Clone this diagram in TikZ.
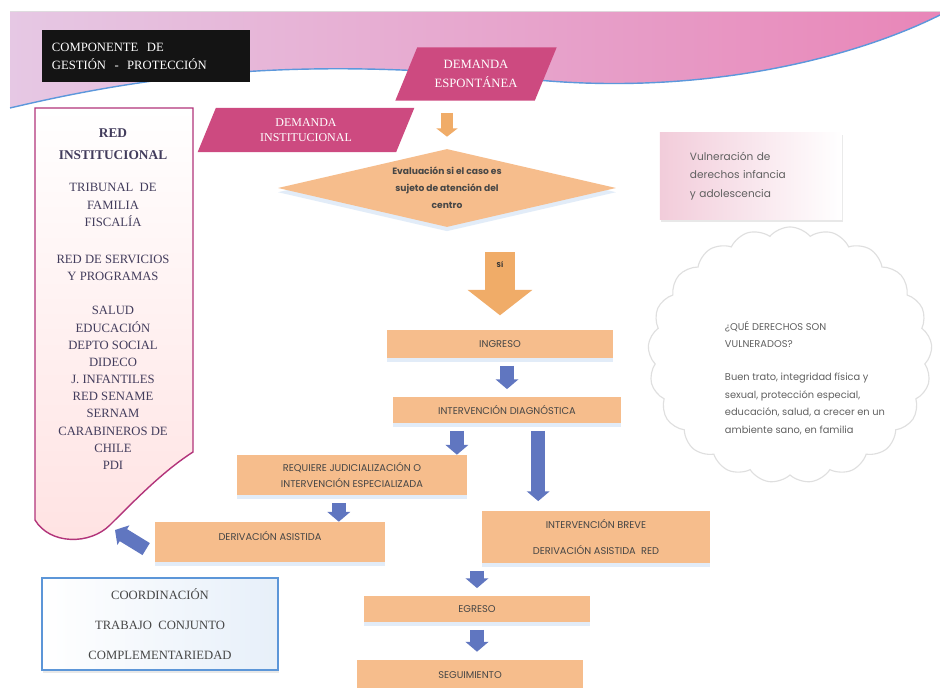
\documentclass[tikz,border=0pt]{standalone}
\usepackage{fontspec}
\setmainfont{Liberation Serif}
\setsansfont{Poppins}
\usetikzlibrary{shapes.geometric}
\usetikzlibrary{shapes.symbols}
\usetikzlibrary{arrows.meta}
\usetikzlibrary{shadows}
\definecolor{boxorange}{RGB}{246,189,140}
\definecolor{arroworange}{RGB}{240,172,104}
\definecolor{demandpink}{RGB}{205,74,128}
\definecolor{redline}{RGB}{178,52,122}
\definecolor{arrowblue}{RGB}{96,118,192}
\definecolor{coordblue}{RGB}{92,150,216}
\definecolor{boxtext}{RGB}{70,70,70}
\definecolor{redtext}{RGB}{66,60,92}
\definecolor{bandblue}{RGB}{92,152,220}
\definecolor{bandleft}{RGB}{230,200,228}
\definecolor{bandright}{RGB}{232,134,184}
\definecolor{vulnpink}{RGB}{242,204,218}
\tikzstyle{block} = [rectangle, fill=boxorange, text=boxtext, inner sep=0pt, align=center,
    font=\sffamily\fontsize{7}{9}\selectfont,
    drop shadow={shadow xshift=0pt, shadow yshift=-3pt, fill=bandblue!25, opacity=0.7}]
\tikzstyle{decision} = [diamond, fill=boxorange, text=boxtext, inner sep=0pt, align=center,
    shape aspect=4.3, font=\sffamily\bfseries\fontsize{6.5}{12}\selectfont,
    drop shadow={shadow xshift=0pt, shadow yshift=-3pt, fill=bandblue!25, opacity=0.7}]
\tikzstyle{demand} = [trapezium, trapezium stretches=true, fill=demandpink, text=white,
    align=center, inner sep=0pt]
\tikzstyle{redtxt} = [text=redtext, align=center, font=\fontsize{9}{12.2}\selectfont]
\tikzstyle{graytxt} = [text=gray!75!black, align=left, font=\sffamily\fontsize{7}{12.5}\selectfont]
\tikzstyle{bluearrow} = [draw=arrowblue, line width=10pt, -{Triangle[length=7pt,width=16pt]},
    shorten <=0.2cm, shorten >=0.2cm]
\tikzstyle{orangearrow} = [draw=arroworange]

\begin{document}
\begin{tikzpicture}[x=0.025cm, y=-0.025cm]
    \fill[white] (0,0) rectangle (940,688);
    \useasboundingbox (0,0) rectangle (940,688);
    % Top band
    \fill[left color=bandleft, right color=bandright] (10,12) -- (940,12) -- (940,15)
        .. controls (850,60) and (700,95) .. (537,80)
        .. controls (300,55) and (150,75) .. (10,108) -- cycle;
    \draw[bandblue, line width=1pt] (10,108) .. controls (150,75) and (300,55) .. (537,80)
        .. controls (700,95) and (850,60) .. (940,15);
    % Cloud
    \node [cloud, cloud puffs=21, cloud puff arc=100, aspect=1.1, draw=gray!25, fill=white, line width=0.8pt,
        minimum width=7.1cm, minimum height=6.4cm] (nube) at (790,355) {};
    % Red institucional
    \draw[redline, line width=1pt, top color=white, bottom color=pink!45] (35,108) -- (193,108) -- (193,452)
        .. controls (165,470) and (140,495) .. (110,525)
        .. controls (90,545) and (50,545) .. (35,520) -- cycle;
    \coordinate (redtip) at (115,530);
    \node [redtxt, font=\bfseries\fontsize{9.5}{15.6}\selectfont] (redinst) at (113,144) {RED\\INSTITUCIONAL};
    \node [redtxt] (redjud) at (113,205) {TRIBUNAL\ \ DE\\FAMILIA\\FISCALÍA};
    \node [redtxt] (redserv) at (113,268) {RED DE SERVICIOS\\Y PROGRAMAS};
    \node [redtxt] (redlista) at (113,388) {SALUD\\EDUCACIÓN\\DEPTO SOCIAL\\DIDECO\\J. INFANTILES\\RED SENAME\\SERNAM\\CARABINEROS DE\\CHILE\\PDI};
    % Place nodes
    \node [rectangle, fill=black!92, text=white, minimum width=5.2cm, minimum height=1.3cm,
        text width=4.7cm, align=left, font=\fontsize{9}{12.8}\selectfont] (titulo) at (146,56)
        {COMPONENTE\ \ DE\\GESTIÓN\ \ -\ \ PROTECCIÓN};
    \node [demand, trapezium left angle=60, trapezium right angle=120, minimum width=4.05cm,
        minimum height=1.33cm, font=\fontsize{9}{13}\selectfont] (espont) at (476,74) {DEMANDA\\ESPONTÁNEA};
    \node [demand, trapezium left angle=68, trapezium right angle=112, minimum width=5.45cm,
        minimum height=1.1cm, font=\fontsize{8.5}{10.5}\selectfont] (instit) at (306,130) {DEMANDA\\INSTITUCIONAL};
    \node [decision, minimum width=8.45cm, minimum height=1.95cm] (eval) at (447,188)
        {Evaluación si el caso es\\sujeto de atención del\\centro};
    \node [rectangle, left color=vulnpink, right color=white, minimum width=4.55cm, minimum height=2.18cm,
        text width=3.05cm, graytxt, font=\sffamily\fontsize{7.5}{13}\selectfont,
        drop shadow={shadow xshift=1pt, shadow yshift=-2pt, fill=gray!30, opacity=0.6}] (vulner) at (751,176)
        {Vulneración de\\derechos infancia\\y adolescencia};
    \node [graytxt, anchor=north west] (nubetxt) at (720,316)
        {¿QUÉ DERECHOS SON\\VULNERADOS?\\[11pt]Buen trato, integridad física y\\sexual, protección especial,\\educación, salud, a crecer en un\\ambiente sano, en familia};
    \node [block, minimum width=5.65cm, minimum height=0.68cm] (ingreso) at (500,344) {INGRESO};
    \node [block, minimum width=5.68cm, minimum height=0.63cm] (diag) at (507,410) {INTERVENCIÓN DIAGNÓSTICA};
    \node [block, minimum width=5.73cm, minimum height=1.0cm] (req) at (352,475)
        {REQUIERE JUDICIALIZACIÓN O\\[3pt]INTERVENCIÓN ESPECIALIZADA};
    \node [block, minimum width=5.75cm, minimum height=1.0cm, text height=5pt, text depth=7.3pt] (deriv) at (270,542)
        {DERIVACIÓN ASISTIDA};
    \node [block, minimum width=5.7cm, minimum height=1.28cm] (breve) at (596,537)
        {INTERVENCIÓN BREVE\\[10pt]DERIVACIÓN ASISTIDA\ \ RED};
    \node [block, minimum width=5.63cm, minimum height=0.63cm] (egreso) at (477,609) {EGRESO};
    \node [block, minimum width=5.65cm, minimum height=0.75cm] (seguim) at (470,675) {SEGUIMIENTO};
    \node [rectangle, draw=coordblue, line width=1.2pt, left color=white, right color=coordblue!15,
        minimum width=5.9cm, minimum height=2.3cm, align=center, text=boxtext,
        font=\fontsize{9}{21.3}\selectfont,
        drop shadow={shadow xshift=1pt, shadow yshift=-2pt, fill=gray!30, opacity=0.6}] (coord) at (160,624)
        {COORDINACIÓN\\TRABAJO\ \ CONJUNTO\\COMPLEMENTARIEDAD};
    % Draw edges
    \draw [orangearrow, line width=9pt, -{Triangle[length=6pt,width=15pt]}, shorten <=0.3cm, shorten >=0.3cm]
        (eval.north |- espont.south) -- (eval.north);
    \draw [orangearrow, line width=22pt, -{Triangle[length=18pt,width=45pt]}, shorten <=0.62cm, shorten >=0.37cm]
        (ingreso.north |- eval.south) -- (ingreso.north)
        node [pos=0.36, text=black!80, font=\sffamily\bfseries\fontsize{5}{5}\selectfont] {Sí};
    \draw [bluearrow] (diag.north |- ingreso.south) -- (diag.north);
    \draw [bluearrow, shorten >=0pt] ([xshift=-0.25cm]req.north east |- diag.south) -- ([xshift=-0.25cm]req.north east);
    \draw [bluearrow, shorten >=0.25cm] ([xshift=0.78cm]diag.south) -- ([xshift=0.78cm]diag.south |- breve.north);
    \draw [bluearrow, shorten >=0pt] ([xshift=-0.33cm]req.south) -- ([xshift=-0.33cm]req.south |- deriv.north);
    \draw [bluearrow] (egreso.north |- breve.south) -- (egreso.north);
    \draw [bluearrow] (egreso.south) -- (egreso.south |- seguim.north);
    \draw [bluearrow, shorten >=0pt, shorten <=0.25cm] ([yshift=0.2cm]deriv.south west) -- (redtip);
\end{tikzpicture}
\end{document}
